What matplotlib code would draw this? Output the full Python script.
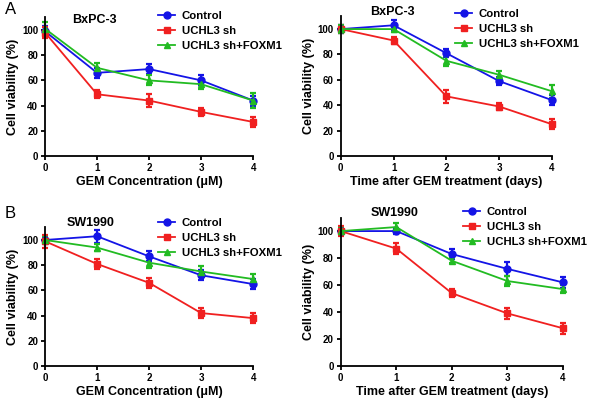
import numpy as np
import matplotlib.pyplot as plt
from matplotlib.lines import Line2D

plt.rcParams['font.family'] = ['Liberation Sans', 'DejaVu Sans']
plt.rcParams['font.weight'] = 'bold'

x = [0, 1, 2, 3, 4]
labels = ['Control', 'UCHL3 sh', 'UCHL3 sh+FOXM1']
colors = ['#1414e6', '#f02020', '#22bb22']
markers = ['o', 's', '^']

# panel A, BxPC-3
a_conc = [[99, 66, 69, 60, 44], [98, 49, 44, 35, 27], [101, 70, 60, 57, 44]]
a_conc_err = [[4, 4, 4, 4, 4], [4, 3, 5, 3, 4], [5, 4, 4, 4, 6]]
a_time = [[100, 103, 81, 59, 44], [100, 91, 47, 39, 25], [100, 100, 75, 64, 51]]
a_time_err = [[3, 4, 3, 3, 4], [3, 3, 5, 3, 4], [3, 2, 4, 3, 5]]
# panel B, SW1990
b_conc = [[100, 103, 87, 72, 65], [99, 81, 66, 42, 38], [100, 94, 82, 75, 69]]
b_conc_err = [[3, 5, 4, 4, 4], [5, 4, 4, 4, 4], [2, 3, 4, 4, 4]]
b_time = [[100, 100, 83, 72, 62], [100, 87, 54, 39, 28], [100, 103, 78, 63, 57]]
b_time_err = [[2, 2, 4, 5, 4], [4, 4, 3, 4, 4], [2, 3, 2, 4, 3]]

xlab_conc = 'GEM Concentration (\u03bcM)'
xlab_time = 'Time after GEM treatment (days)'

W, H = 600, 400
fig = plt.figure(figsize=(6, 4), dpi=100)

def px(xp, yp):
    return xp / W, 1 - yp / H

panels = [
    # rect, data, err, title, xlabel, title px pos, legend anchor px
    ([0.075, 0.61, 0.347, 0.3465], a_conc, a_conc_err, 'BxPC-3', xlab_conc, (94, 20), (158, 11)),
    ([0.568, 0.61, 0.352, 0.349], a_time, a_time_err, 'BxPC-3', xlab_time, (392, 12), (455, 9)),
    ([0.075, 0.085, 0.347, 0.3465], b_conc, b_conc_err, 'SW1990', xlab_conc, (91, 223), (158, 218)),
    ([0.568, 0.085, 0.37, 0.371], b_time, b_time_err, 'SW1990', xlab_time, (395, 213), (463, 207)),
]

handles = [Line2D([], [], color=c, marker=m, markersize=5, lw=1.3) for c, m in zip(colors, markers)]

for rect, data, err, title, xlab, tpos, lpos in panels:
    ax = fig.add_axes(rect)
    for vals, e, lab, c, m in zip(data, err, labels, colors, markers):
        ax.errorbar(x, vals, yerr=e, color=c, marker=m, markersize=5, lw=1.3,
                    capsize=2.5, elinewidth=1.6, capthick=1.6, label=lab, clip_on=False)
    ax.set_xlim(0, 4)
    ax.set_ylim(0, 110)
    ax.set_xticks(x)
    ax.set_yticks([0, 20, 40, 60, 80, 100])
    ax.spines['top'].set_visible(False)
    ax.spines['right'].set_visible(False)
    ax.spines['left'].set_linewidth(1.3)
    ax.spines['bottom'].set_linewidth(1.3)
    ax.tick_params(labelsize=7, width=1.3, length=3, pad=2)
    ax.set_xlabel(xlab, fontsize=9, fontweight='bold', labelpad=2)
    ax.set_ylabel('Cell viability (%)', fontsize=9, fontweight='bold', labelpad=2)
    fig.text(*px(*tpos), title, ha='center', va='center', fontsize=9, fontweight='bold')
    fig.legend(handles, labels, loc='upper left', bbox_to_anchor=px(*lpos),
               frameon=False, fontsize=8.2, handlelength=1.5, handletextpad=0.6,
               labelspacing=0.42, borderpad=0, borderaxespad=0)

fig.text(0.008, 0.995, 'A', fontsize=12, va='top', fontweight='normal')
fig.text(0.008, 0.485, 'B', fontsize=12, va='top', fontweight='normal')

fig.savefig('out.png', dpi=100)
